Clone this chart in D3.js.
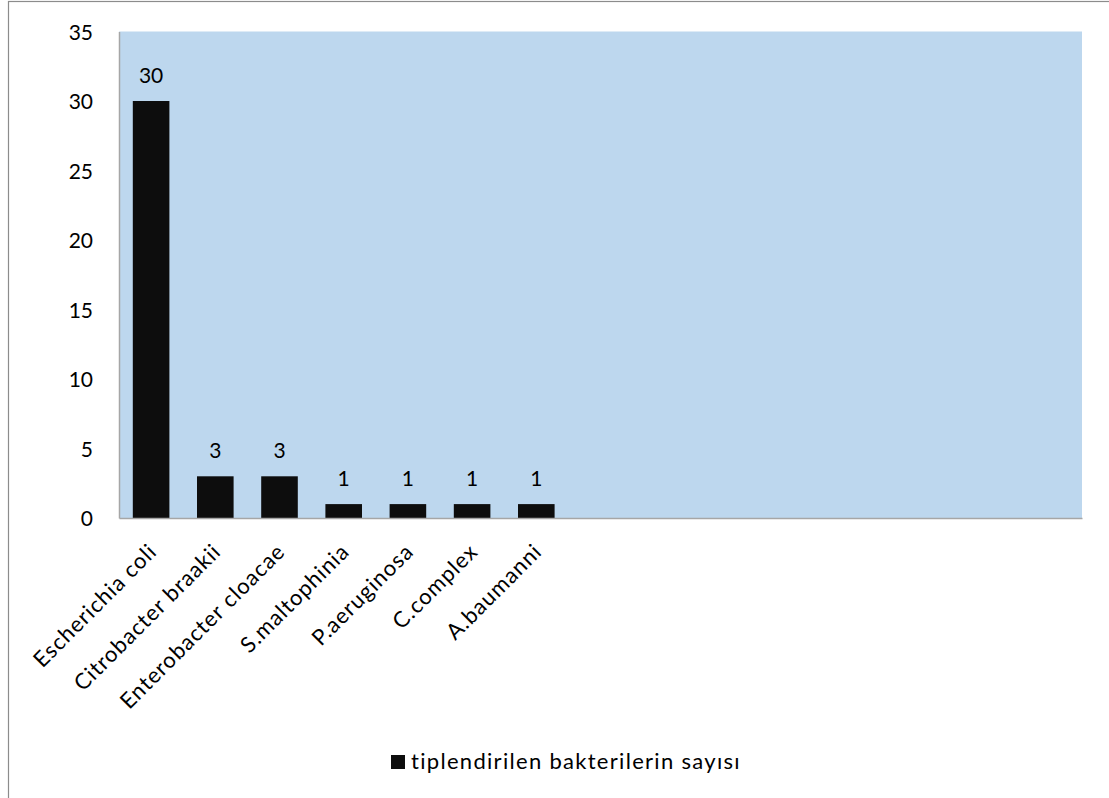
<!DOCTYPE html>
<html>
<head>
<meta charset="utf-8">
<script src="https://cdn.jsdelivr.net/npm/d3@7"></script>
<style>
  html, body { margin: 0; padding: 0; background: #fff; }
  svg { display: block; }
  text { font-family: Lato, "Open Sans", sans-serif; fill: #000; }
</style>
</head>
<body>
<svg id="chart" width="1109" height="798"></svg>
<script>
// Bacterial species typed and their counts
const categories = ["Escherichia coli", "Citrobacter braakii", "Enterobacter cloacae",
  "S.maltophinia", "P.aeruginosa", "C.complex", "A.baumanni"];
const counts = [30, 3, 3, 1, 1, 1, 1];
// Empty category slots that follow in the original worksheet range
const emptySlots = ["", "", "", "", "", "", "", ""];
const yTicks = [0, 5, 10, 15, 20, 25, 30, 35];
const seriesName = "tiplendirilen bakterilerin sayısı";

const svg = d3.select("#chart");
const W = 1109, H = 798;
const m = { left: 119, top: 31.5, right: 1082, bottom: 518 };

// Outer chart frame
svg.append("rect")
  .attr("x", 8.5).attr("y", 1.5).attr("width", W + 10).attr("height", H + 10)
  .attr("fill", "#fff").attr("stroke", "#8c8c8c").attr("stroke-width", 1.2);

const domain = categories.concat(emptySlots.map((d, i) => "slot" + i));
const x = d3.scaleBand().domain(domain).range([m.left, m.right]).paddingInner(0.43).paddingOuter(0.215);
const y = d3.scaleLinear().domain([0, 35]).range([m.bottom, m.top]);

// Plot area background
svg.append("rect")
  .attr("x", m.left).attr("y", m.top)
  .attr("width", m.right - m.left).attr("height", m.bottom - m.top)
  .attr("fill", "#bdd7ee");

// Bars
const data = categories.map((c, i) => ({ c, v: counts[i] }));
svg.append("g").selectAll("rect").data(data).join("rect")
  .attr("x", d => x(d.c)).attr("width", x.bandwidth())
  .attr("y", d => y(d.v)).attr("height", d => y(0) - y(d.v))
  .attr("fill", "#0d0d0d");

// Value labels
svg.append("g").selectAll("text").data(data).join("text")
  .attr("x", d => x(d.c) + x.bandwidth() / 2)
  .attr("y", d => y(d.v) - 18)
  .attr("text-anchor", "middle")
  .style("font-size", "21px")
  .text(d => d.v);

// Y axis
const yAxis = d3.axisLeft(y).tickValues(yTicks).tickSize(0).tickPadding(26);
const gy = svg.append("g").attr("transform", `translate(${m.left},0)`).call(yAxis);
gy.attr("font-family", null).attr("font-size", null);
gy.select(".domain").attr("stroke", "#a6a6a6").attr("stroke-width", 1.5);
gy.selectAll("text").style("font-size", "21px").attr("dy", "0.36em");

// X axis with rotated category names
const xAxis = d3.axisBottom(x).tickSize(0).tickFormat(d => categories.includes(d) ? d : "");
const gx = svg.append("g").attr("transform", `translate(0,${m.bottom})`).call(xAxis);
gx.attr("font-family", null).attr("font-size", null);
gx.select(".domain").attr("stroke", "#a6a6a6").attr("stroke-width", 1.5);
gx.selectAll("text")
  .style("font-size", "22px")
  .style("letter-spacing", "1px")
  .attr("text-anchor", "end")
  .attr("dy", 0)
  .attr("transform", "translate(7,35) rotate(-45)")
  .attr("y", 0).attr("x", 0);

// Legend
const lg = svg.append("g").attr("transform", "translate(391,755)");
lg.append("rect").attr("width", 14).attr("height", 14).attr("fill", "#0d0d0d");
lg.append("text").attr("x", 20).attr("y", 14)
  .style("font-size", "22px").style("letter-spacing", "1.3px")
  .text(seriesName);
</script>
</body>
</html>
